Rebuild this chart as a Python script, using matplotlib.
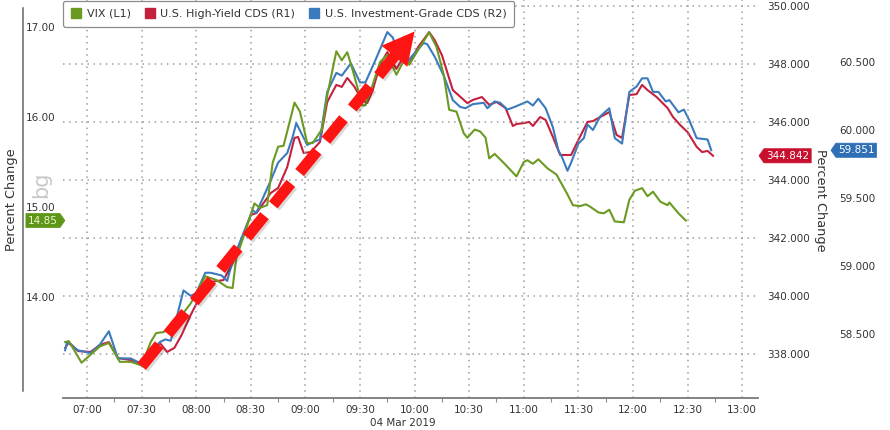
"""VIX vs US credit default swap indices, intraday 04 Mar 2019 (Bloomberg style)."""

import matplotlib

matplotlib.use("Agg")
import matplotlib.dates as mdates
import matplotlib.patheffects as pe
import matplotlib.pyplot as plt
import pandas as pd
from matplotlib.lines import Line2D
from matplotlib.path import Path
from matplotlib.ticker import FormatStrFormatter

BASE = pd.Timestamp("2019-03-04 07:00")

# minutes after 07:00 and values
VIX_MIN = [-12, -10, -3, 7, 12, 18, 24, 30, 35, 38, 42, 46, 51, 57, 65, 71, 77, 80, 82, 86,
           92, 95, 99, 102, 105, 108, 114, 117, 121, 124, 129, 132, 137, 140, 143, 146, 149,
           151, 153, 157, 161, 165, 170, 175, 177, 183, 188, 192, 196, 199, 203, 207, 209,
           213, 216, 219, 221, 224, 229, 236, 240, 242, 245, 248, 253, 258, 264, 267, 271,
           274, 276, 281, 284, 287, 290, 295, 298, 301, 305, 308, 311, 315, 319, 320, 325, 329]
VIX = [13.50, 13.51, 13.27, 13.45, 13.49, 13.28, 13.28, 13.24, 13.50, 13.60, 13.61, 13.66,
       13.77, 13.93, 14.23, 14.19, 14.11, 14.10, 14.43, 14.67, 15.04, 14.99, 15.02, 15.49,
       15.67, 15.68, 16.16, 16.06, 15.71, 15.71, 15.86, 16.24, 16.73, 16.63, 16.72, 16.52,
       16.30, 16.13, 16.13, 16.36, 16.61, 16.69, 16.47, 16.66, 16.58, 16.78, 16.94, 16.78,
       16.47, 16.08, 16.06, 15.82, 15.77, 15.86, 15.84, 15.77, 15.54, 15.59, 15.49, 15.34,
       15.50, 15.52, 15.48, 15.53, 15.43, 15.36, 15.14, 15.02, 15.01, 15.03, 15.01, 14.94,
       14.93, 14.97, 14.84, 14.83, 15.08, 15.18, 15.21, 15.12, 15.17, 15.06, 15.02, 15.05,
       14.93, 14.85]

HY_MIN = [-12, -10, -5, 2, 7, 12, 17, 24, 30, 35, 40, 44, 48, 52, 57, 64, 68, 75, 80, 90,
          93, 101, 105, 110, 114, 116, 119, 123, 128, 132, 137, 140, 143, 147, 151, 154, 157,
          161, 165, 170, 173, 177, 182, 188, 191, 195, 201, 209, 212, 217, 221, 225, 230, 234,
          236, 240, 243, 245, 249, 252, 256, 260, 266, 270, 275, 278, 282, 287, 291, 294, 298,
          302, 305, 308, 313, 319, 322, 326, 330, 335, 338, 341, 344]
HY_CDS = [338.21, 338.41, 338.10, 338.07, 338.31, 338.41, 337.86, 337.79, 337.66, 337.97,
          338.38, 338.07, 338.21, 338.66, 339.35, 340.21, 340.49, 340.55, 341.14, 342.80,
          342.86, 343.56, 343.73, 344.45, 345.46, 345.49, 344.94, 344.97, 345.32, 346.70,
          347.29, 347.22, 347.53, 347.22, 346.77, 346.66, 347.11, 347.98, 348.42, 347.84,
          348.15, 348.01, 348.60, 349.11, 348.84, 348.32, 347.11, 346.66, 346.77, 346.87,
          346.60, 346.70, 346.49, 345.87, 345.94, 345.97, 346.01, 345.87, 346.18, 346.08,
          345.49, 344.87, 344.87, 345.39, 346.01, 346.04, 346.18, 346.35, 345.56, 345.46,
          346.94, 346.97, 347.29, 347.11, 346.87, 346.49, 346.18, 345.90, 345.66, 345.15,
          344.97, 345.01, 344.842]

IG_MIN = [-12, -11, -5, 2, 7, 12, 17, 24, 30, 35, 40, 43, 46, 50, 53, 57, 60, 65, 68, 74,
          77, 80, 91, 93, 101, 105, 110, 113, 115, 121, 124, 128, 132, 137, 140, 145, 150, 153,
          159, 165, 168, 171, 176, 179, 185, 187, 191, 196, 201, 205, 208, 212, 218, 220, 224,
          227, 231, 235, 242, 245, 248, 252, 256, 259, 261, 264, 266, 270, 273, 275, 278, 282,
          287, 290, 294, 298, 302, 305, 308, 311, 314, 318, 320, 325, 328, 331, 335, 341, 343]
IG_CDS = [58.38, 58.44, 58.38, 58.36, 58.42, 58.52, 58.32, 58.32, 58.28, 58.36, 58.44, 58.46,
          58.45, 58.66, 58.82, 58.78, 58.80, 58.95, 58.95, 58.93, 58.89, 59.04, 59.41, 59.39,
          59.63, 59.76, 59.83, 59.95, 60.05, 59.89, 59.91, 59.93, 60.28, 60.42, 60.40, 60.49,
          60.35, 60.35, 60.53, 60.72, 60.68, 60.57, 60.50, 60.55, 60.64, 60.63, 60.54, 60.40,
          60.22, 60.17, 60.16, 60.19, 60.20, 60.16, 60.21, 60.20, 60.15, 60.17, 60.21, 60.18,
          60.23, 60.16, 60.02, 59.85, 59.80, 59.70, 59.76, 59.90, 59.94, 60.04, 60.00, 60.10,
          60.16, 59.94, 59.90, 60.28, 60.32, 60.38, 60.38, 60.28, 60.28, 60.21, 60.22, 60.13,
          60.15, 60.07, 59.94, 59.93, 59.851]

LABELS = ["VIX (L1)", "U.S. High-Yield CDS (R1)", "U.S. Investment-Grade CDS (R2)"]
VIX_TICKS = [14, 15, 16, 17]
HY_TICKS = [338, 340, 342, 344, 346, 348, 350]
IG_TICKS = [58.5, 59.0, 59.5, 60.0, 60.5]

# red call-out arrow drawn on the VIX scale: (minutes after 07:00, VIX level)
ARROW_TAIL = (30, 13.23)
ARROW_HEAD = (180, 16.95)

GREEN = "#6b9a23"
RED = "#c4213f"
BLUE = "#3b7bbd"
ARROW_RED = "#ff1414"
TEXT = "#333333"
GRID = "#9c9c9c"


def to_num(minutes):
    return mdates.date2num((BASE + pd.to_timedelta(minutes, unit="min")).to_numpy())


def tag_left(x0, y0, width, height, mutation_size):
    pad = 0.2 * mutation_size
    x0, y0 = x0 - pad, y0 - pad
    x1, y1 = x0 + width + 2 * pad, y0 + height + 2 * pad
    tip = 0.35 * (y1 - y0)
    return Path([(x0, y0), (x1, y0), (x1, y1), (x0, y1), (x0 - tip, (y0 + y1) / 2), (x0, y0)],
                closed=True)


def tag_right(x0, y0, width, height, mutation_size):
    pad = 0.2 * mutation_size
    x0, y0 = x0 - pad, y0 - pad
    x1, y1 = x0 + width + 2 * pad, y0 + height + 2 * pad
    tip = 0.35 * (y1 - y0)
    return Path([(x0, y0), (x1, y0), (x1 + tip, (y0 + y1) / 2), (x1, y1), (x0, y1), (x0, y0)],
                closed=True)


def add_tag(axis, value, text, offset_px, color, shape, text_color="white"):
    x_anchor = 0 if shape is tag_right else 1
    axis.annotate(text, xy=(x_anchor, value), xycoords=("axes fraction", "data"),
                  xytext=(offset_px, 0), textcoords="offset pixels", ha="left", va="center",
                  fontsize=7.5, color=text_color, annotation_clip=False,
                  bbox=dict(boxstyle=shape, fc=color, ec=color, lw=0.5))


def main():
    fig = plt.figure(figsize=(8.9, 4.3), dpi=100, facecolor="white")
    W, H = 890, 430
    ax = fig.add_axes([63 / W, 1 - 398 / H, 695 / W, 398 / H])
    ax2 = ax.twinx()
    ax3 = ax.twinx()

    ax2.set_zorder(1)
    ax3.set_zorder(2)
    ax.set_zorder(3)
    ax.patch.set_visible(False)
    ax3.patch.set_visible(False)
    ax2.patch.set_facecolor("white")

    ax2.plot(to_num(HY_MIN), HY_CDS, color=RED, lw=1.5, solid_joinstyle="round")
    ax3.plot(to_num(IG_MIN), IG_CDS, color=BLUE, lw=1.5, solid_joinstyle="round")
    ax.plot(to_num(VIX_MIN), VIX, color=GREEN, lw=1.5, solid_joinstyle="round")

    ax.set_xlim(to_num([-13.2])[0], to_num([368.7])[0])
    ax.set_ylim(12.878, 17.30)
    ax2.set_ylim(336.48, 350.22)
    ax3.set_ylim(58.029, 60.956)

    # x axis
    ax.xaxis.set_major_locator(mdates.MinuteLocator(byminute=[0, 30]))
    ax.xaxis.set_minor_locator(mdates.MinuteLocator(byminute=[15, 45]))
    ax.xaxis.set_major_formatter(mdates.DateFormatter("%H:%M"))
    ax.tick_params(axis="x", which="major", length=0, pad=5, labelsize=7.5, labelcolor=TEXT)
    ax.tick_params(axis="x", which="minor", length=3, width=0.8, color="#8a8a8a", direction="out")
    ax.grid(axis="x", which="major", linestyle=(0, (1, 3)), color=GRID, lw=1.1)

    # left axis (VIX), labels sit to the right of the detached spine
    ax.set_yticks(VIX_TICKS)
    ax.yaxis.set_major_formatter(FormatStrFormatter("%.2f"))
    ax.tick_params(axis="y", length=0, pad=26.6, labelsize=7.5, labelcolor=TEXT)
    for lab in ax.get_yticklabels():
        lab.set_horizontalalignment("left")

    # right axes
    ax2.set_yticks(HY_TICKS)
    ax2.yaxis.set_major_formatter(FormatStrFormatter("%.3f"))
    ax2.tick_params(axis="y", length=0, pad=6.5, labelsize=7.5, labelcolor=TEXT)
    ax2.grid(axis="y", linestyle=(0, (1, 3)), color=GRID, lw=1.1)

    ax3.set_yticks(IG_TICKS)
    ax3.yaxis.set_major_formatter(FormatStrFormatter("%.3f"))
    ax3.tick_params(axis="y", length=0, pad=58.3, labelsize=7.5, labelcolor=TEXT)

    for a in (ax, ax2, ax3):
        for side in ("top", "right", "left", "bottom"):
            a.spines[side].set_visible(False)
    ax.spines["bottom"].set_visible(True)
    ax.spines["bottom"].set_color("#7a7a7a")
    ax.spines["bottom"].set_linewidth(1.3)
    fig.add_artist(Line2D([23 / W, 23 / W], [1 - 8 / H, 1 - 391 / H], color="#666666", lw=1.1,
                          transform=fig.transFigure))

    # last-value tags
    add_tag(ax, VIX[-1], f"{VIX[-1]:.2f}", -35, "#5e9617", tag_right, text_color="#eaf6cf")
    add_tag(ax2, HY_CDS[-1], f"{HY_CDS[-1]:.3f}", 8, "#c8102e", tag_left)
    add_tag(ax3, IG_CDS[-1], f"{IG_CDS[-1]:.3f}", 80, "#2f6fb5", tag_left)

    # dashed call-out arrow
    x0, y0 = to_num([ARROW_TAIL[0]])[0], ARROW_TAIL[1]
    x1, y1 = to_num([ARROW_HEAD[0]])[0], ARROW_HEAD[1]
    f = 0.93
    ax.plot([x0, x0 + f * (x1 - x0)], [y0, y0 + f * (y1 - y0)], color=ARROW_RED, lw=8,
            dashes=(2.5, 1.25), dash_capstyle="butt", zorder=5,
            path_effects=[pe.SimpleLineShadow(offset=(1.5, -1.5), alpha=0.15), pe.Normal()])
    ax.annotate("", xy=(x1, y1), xytext=(x0, y0), zorder=6,
                arrowprops=dict(arrowstyle="-|>,head_length=1.15,head_width=0.6",
                                mutation_scale=20, lw=0, color=ARROW_RED,
                                shrinkA=0, shrinkB=0))

    # legend
    handles = [Line2D([], [], marker="s", linestyle="none", markersize=7.5,
                      markerfacecolor=c, markeredgecolor=c, label=l)
               for c, l in zip([GREEN, RED, BLUE], LABELS)]
    leg = ax.legend(handles=handles, loc="upper left", bbox_to_anchor=(63 / W, 1 - 1 / H),
                    bbox_transform=fig.transFigure, ncol=3, fontsize=8, handlelength=1.0,
                    handletextpad=0.45, columnspacing=1.2, borderpad=0.7, borderaxespad=0,
                    fancybox=True, framealpha=1)
    leg.get_frame().set_edgecolor("#8c8c8c")
    leg.get_frame().set_linewidth(0.9)
    for t in leg.get_texts():
        t.set_color(TEXT)
    leg.set_zorder(10)

    # axis titles and annotations
    fig.text(12 / W, 1 - 200 / H, "Percent Change", rotation=90, ha="center", va="center",
             fontsize=9.3, color=TEXT)
    fig.text(820 / W, 1 - 200 / H, "Percent Change", rotation=270, ha="center", va="center",
             fontsize=9.3, color=TEXT)
    fig.text(403 / W, 1 - 423 / H, "04 Mar 2019", ha="center", va="center", fontsize=7.5,
             color=TEXT)
    fig.text(41 / W, 1 - 185 / H, "bg", rotation=90, ha="center", va="center", fontsize=15,
             color="#c9c9c9")

    fig.savefig("out.png", dpi=100, facecolor="white")
    plt.close(fig)


if __name__ == "__main__":
    main()
